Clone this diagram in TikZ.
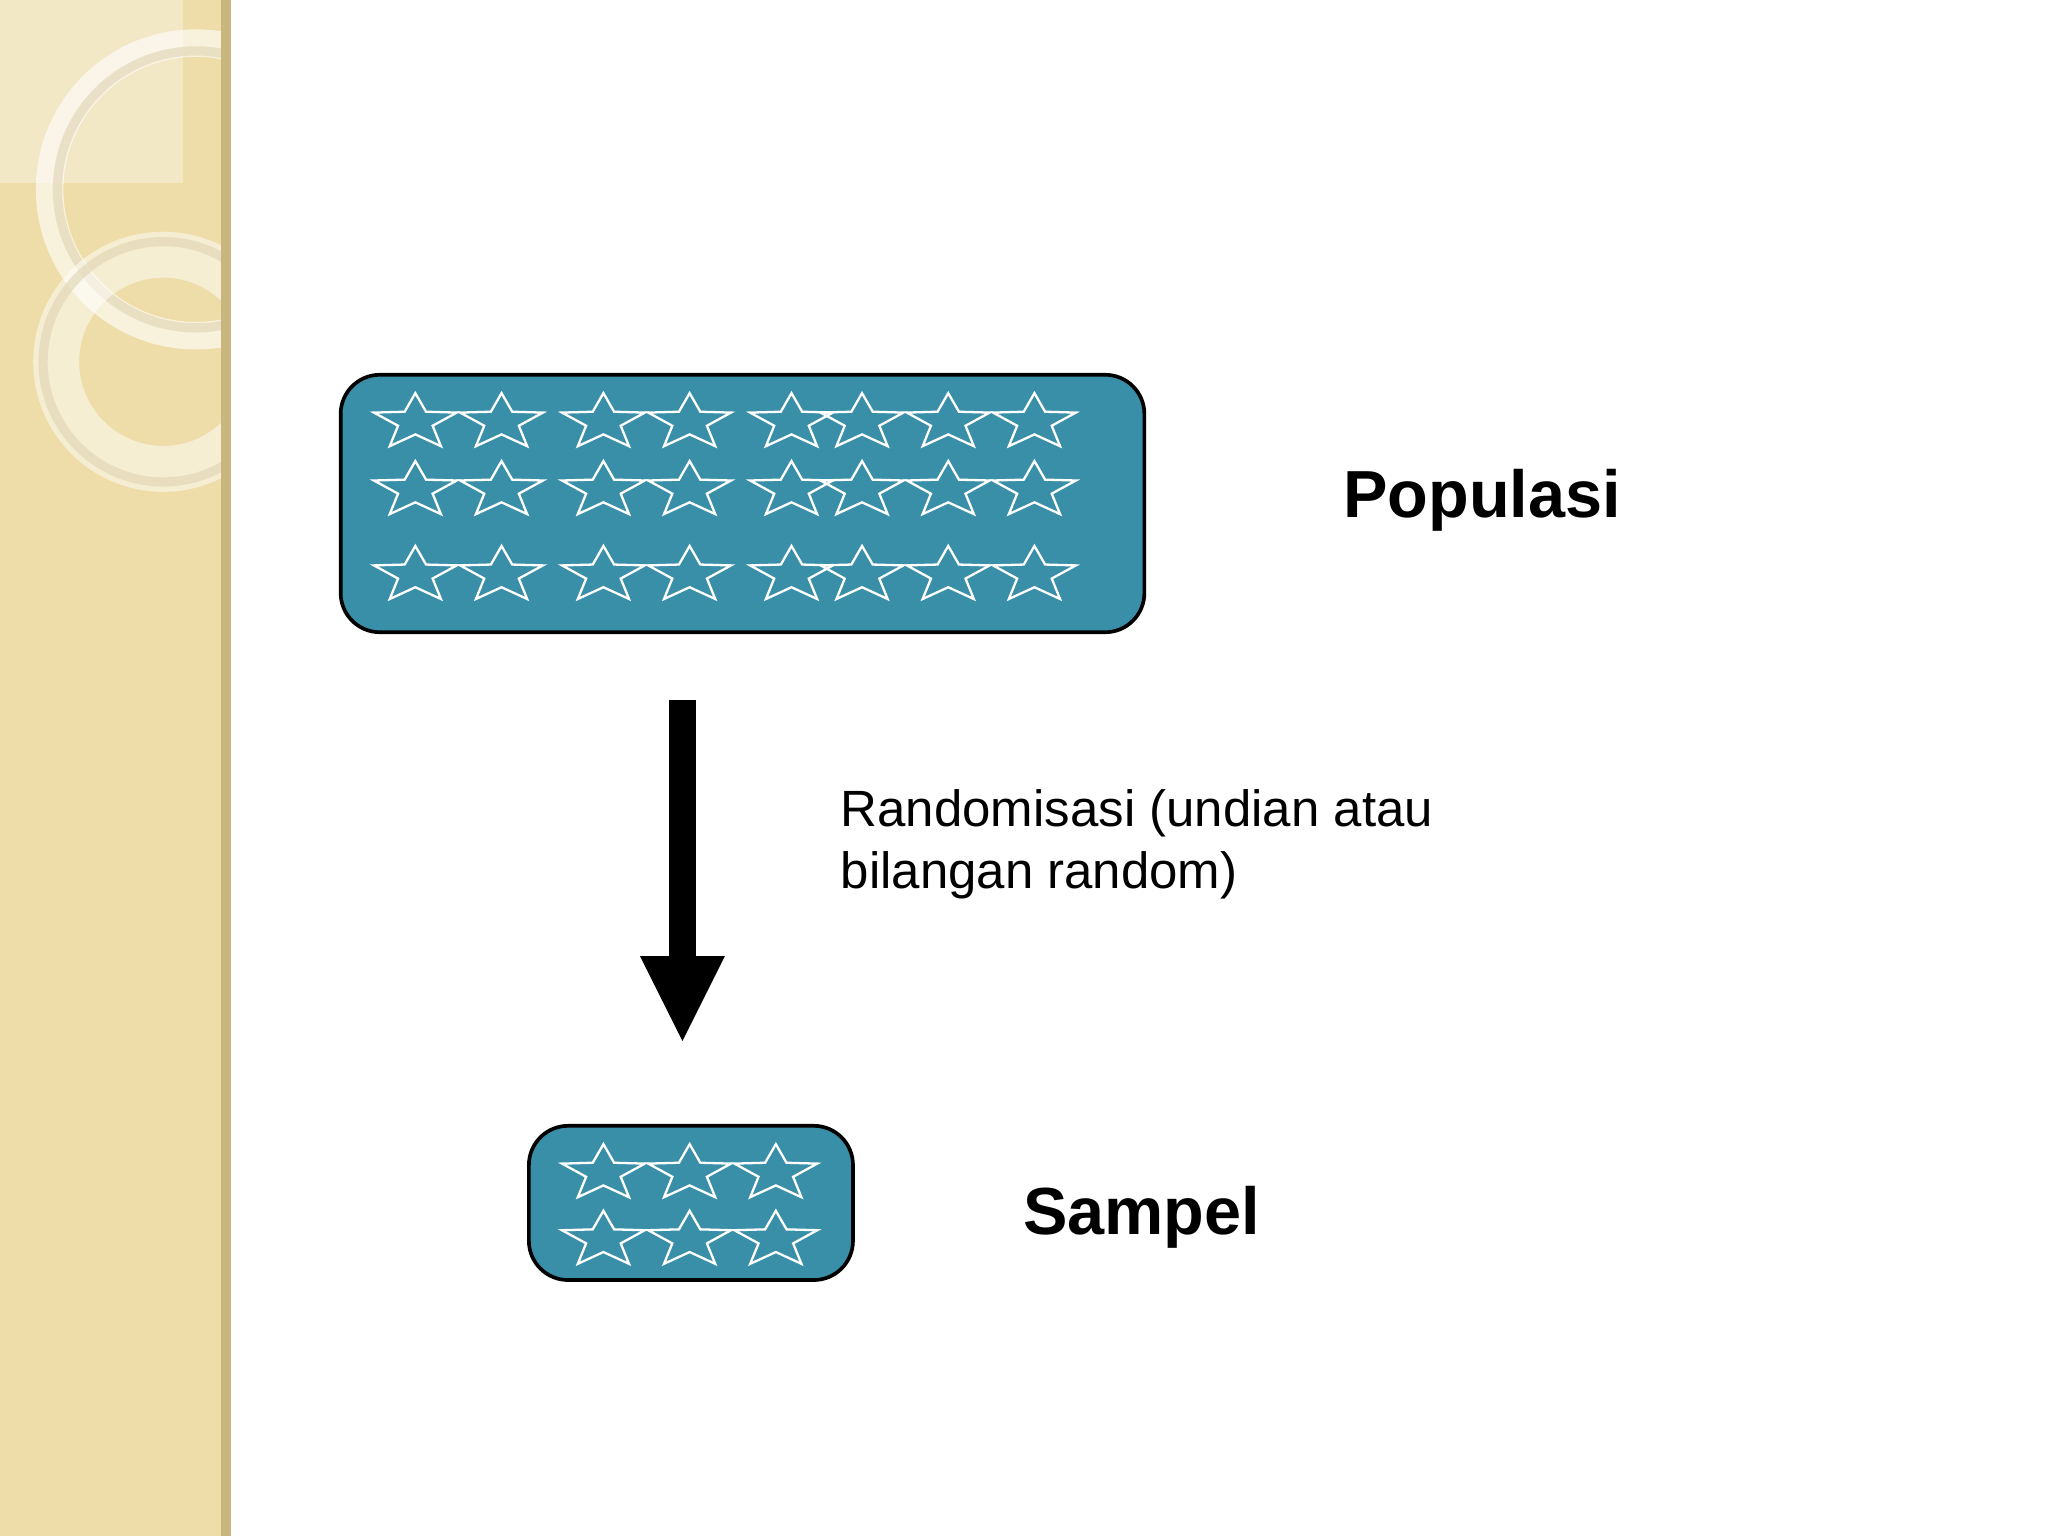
\documentclass[tikz,border=0pt]{standalone}
\usepackage{fontspec}
\setmainfont{Liberation Sans}
\definecolor{teal1}{HTML}{3A8FA8}
\definecolor{beige}{HTML}{EEDDA8}
\definecolor{beigeedge}{HTML}{C9B67E}
\tikzset{
  sbox/.style={draw=black, line width=0.8pt, fill=teal1, rounded corners=0.3cm},
  lbl/.style={font=\bfseries\fontsize{14.5}{17}\selectfont, anchor=west},
  st/.pic={\draw[white, line width=0.5pt, xscale=1.45, yscale=-1]
     (0,-1) ++(90:23) -- (126:9.6) -- (162:23) -- (198:9.6) -- (234:23) -- (270:9.6)
     -- (306:23) -- (342:9.6) -- (18:23) -- (54:9.6) -- cycle;}
}
\begin{document}
\begin{tikzpicture}[x=0.01cm,y=-0.01cm]
\useasboundingbox (0,0) rectangle (1568,1176);
\fill[white] (0,0) rectangle (1568,1176);
\fill[beige] (0,0) rectangle (173,1176);
\begin{scope}
\clip (0,0) rectangle (173,1176);
\fill[white, opacity=0.35] (0,0) rectangle (140,140);
\draw[white, opacity=0.6, line width=6pt] (150,145) circle (112);
\draw[beigeedge!60, opacity=0.6, line width=2pt] (150,145) circle (106);
\draw[white, opacity=0.5, line width=10pt] (125,277) circle (82);
\draw[beigeedge!60, opacity=0.6, line width=2pt] (125,277) circle (92);
\end{scope}
\draw[beigeedge, line width=2pt] (173,0) -- (173,1176);

\node[sbox, minimum width=6.15cm, minimum height=1.97cm] (pop) at (568.5,385.5) {};
\foreach \y in {323,375,440}
  \foreach \x in {318,384,462,528,606,660,726,792}
    \pic at (\x,\y) {st};

\node[sbox, minimum width=2.48cm, minimum height=1.18cm] (samp) at (529,921) {};
\foreach \y in {898,949}
  \foreach \x in {462,528,594}
    \pic at (\x,\y) {st};

\coordinate (a3) at (522.5,797);
\fill[black] (512,536) rectangle (533,733);
\fill[black] (490,732) -- (555,732) -- (a3) -- cycle;

\node[lbl] (tpop) at (1016,383) {Populasi};
\node[lbl] (tsamp) at (771,932) {Sampel};
\node[anchor=north west, align=left, font=\fontsize{11.1}{13.4}\selectfont, inner sep=0pt] (trand) at (643,604)
  {Randomisasi (undian atau\\bilangan random)};
\end{tikzpicture}
\end{document}
